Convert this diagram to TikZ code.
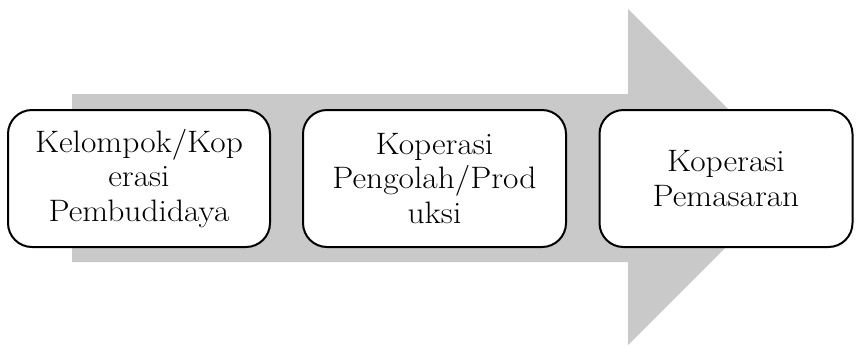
\documentclass[tikz,border=0pt]{standalone}
\usepackage{fontspec}
\setmainfont{Latin Modern Roman}[FakeStretch=1.08]
\definecolor{arrowgray}{RGB}{201,201,201}
\begin{document}
\begin{tikzpicture}[x=1pt,y=-1pt,
  stagebox/.style={draw=black, line width=2pt, rounded corners=24pt, fill=white,
    minimum width=#1, minimum height=137pt, align=center, inner sep=0pt,
    font=\fontsize{31}{34.7}\selectfont},
  stagebox/.default=262pt]
\useasboundingbox (0,0) rectangle (856,346);
\fill[arrowgray] (72,94) -- (628,94) -- (628,9) -- (796,177) -- (628,345) -- (628,262) -- (72,262) -- cycle;
\node[stagebox=262pt] (a) at (139,178.5) {Kelompok/Kop\\erasi\\Pembudidaya};
\node[stagebox=263pt] (b) at (434.5,178.5) {Koperasi\\Pengolah/Prod\\uksi};
\node[stagebox=253pt] (c) at (726,178.5) {Koperasi\\Pemasaran};
\end{tikzpicture}
\end{document}
